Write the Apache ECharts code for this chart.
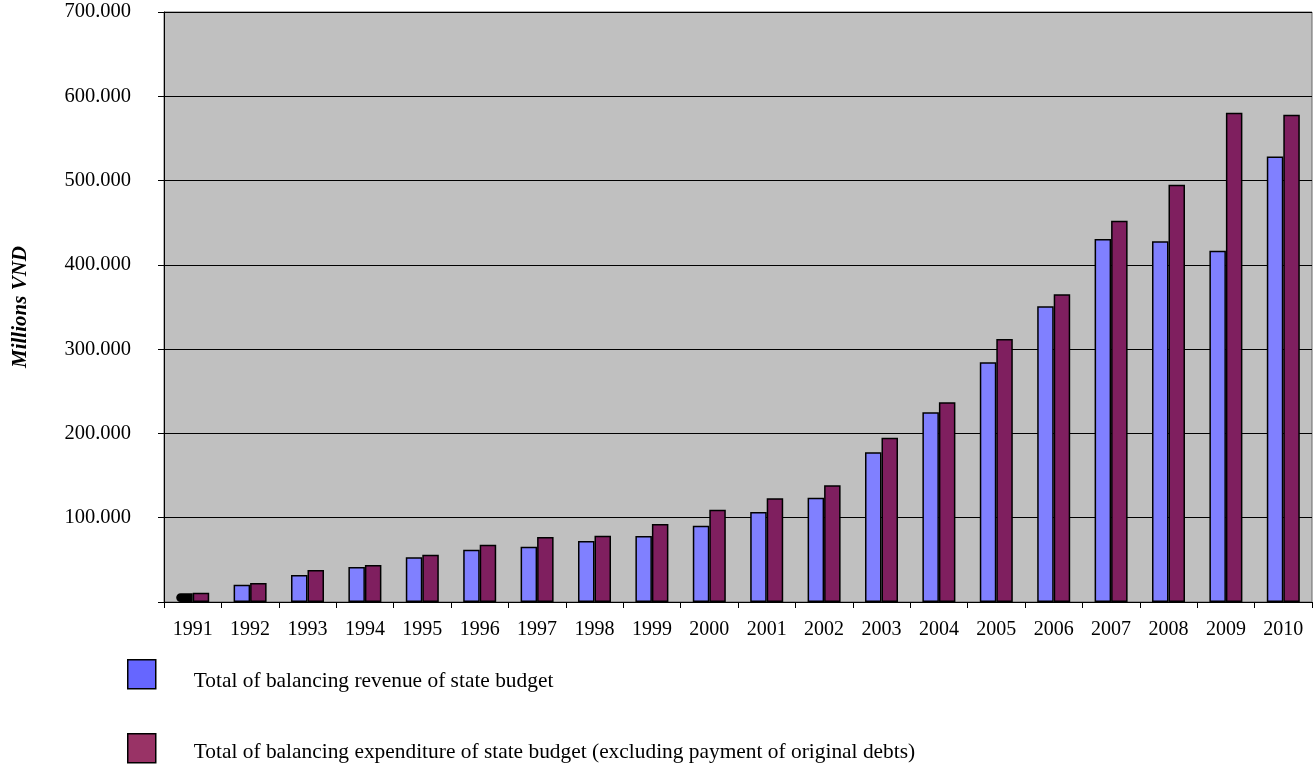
<!DOCTYPE html>
<html><head><meta charset="utf-8">
<script src="https://cdn.jsdelivr.net/npm/echarts@6/dist/echarts.min.js"></script>
<style>html,body{margin:0;padding:0;background:#fff}#c{width:1316px;height:764px}</style>
</head><body><div id="c"></div>
<script>
const years = ['1991','1992','1993','1994','1995','1996','1997','1998','1999','2000','2001','2002','2003','2004','2005','2006','2007','2008','2009','2010'];
const revenue = [10.4, 20.5, 32, 41.5, 53, 62, 65.5, 72.5, 78.3, 90.5, 106.8, 123.7, 177.6, 225, 284.5, 351, 430.6, 427.9, 416.8, 528.6];
const expenditure = [11.1, 22.5, 38, 44, 56, 68, 77, 78.6, 92.5, 109.5, 123, 138.4, 195, 237, 312, 365, 452.4, 495, 580.4, 578];
const yTicks = ['0','100.000','200.000','300.000','400.000','500.000','600.000','700.000'];
const revName = 'Total of balancing revenue of state budget';
const expName = 'Total of balancing expenditure of state budget (excluding payment of original debts)';

const font = 'Liberation Serif, Times New Roman, serif';
function legendCfg(top, shift, name, color){
  return {
    orient:'horizontal', left:127, top:top, padding:0, itemWidth:28, itemHeight:29,
    formatter:(n)=>'{t|'+n+'}',
    textStyle:{fontFamily:font,fontSize:21.4,color:'#000',
      rich:{t:{fontFamily:font,fontSize:21.4,color:'#000',padding:[shift,0,0,33]}}},
    data:[{name:name, icon:'rect', itemStyle:{color:color,borderColor:'#000',borderWidth:1.5}}]
  };
}
const chart = echarts.init(document.getElementById('c'), null, {renderer:'canvas'});
chart.setOption({
  animation:false,
  textStyle:{fontFamily:font},
  grid:{left:164,right:4,top:12,bottom:162,show:true,backgroundColor:'#C0C0C0',borderColor:'#666',borderWidth:1},
  legend:[
    legendCfg(659, 14, revName, '#6666FF'),
    legendCfg(733, 8, expName, '#993366')
  ],
  xAxis:{
    type:'category', data:years, boundaryGap:true,
    axisLine:{lineStyle:{color:'#000',width:1}},
    axisTick:{show:true,length:6,lineStyle:{color:'#000'}},
    axisLabel:{fontFamily:font,fontSize:20,color:'#000',margin:18}
  },
  yAxis:{
    type:'value', min:0, max:700, interval:100,
    name:'Millions VND', nameLocation:'middle', nameGap:133, nameRotate:90,
    nameTextStyle:{fontFamily:font,fontSize:21,fontWeight:'bold',fontStyle:'italic',color:'#000'},
    axisLine:{show:true,lineStyle:{color:'#000'}},
    axisTick:{show:true,length:6,lineStyle:{color:'#000'}},
    splitLine:{lineStyle:{color:'#000',width:1}},
    axisLabel:{fontFamily:font,fontSize:20.5,color:'#000',margin:33,
      formatter:(v)=>{const i=Math.round(v/100);return i===0?'':yTicks[i];}}
  },
  series:[
    {name:revName,type:'bar',barWidth:16.5,barGap:'0%',
     itemStyle:{color:'#8080FF',borderColor:'#000',borderWidth:1.5},
     data:revenue.map((v,i)=>i===0?{value:v,itemStyle:{color:'#000',borderRadius:[5,0,0,5]}}:v)},
    {name:expName,type:'bar',barWidth:16.5,
     itemStyle:{color:'#7F1F5F',borderColor:'#000',borderWidth:1.5},
     data:expenditure}
  ]
});
</script></body></html>
